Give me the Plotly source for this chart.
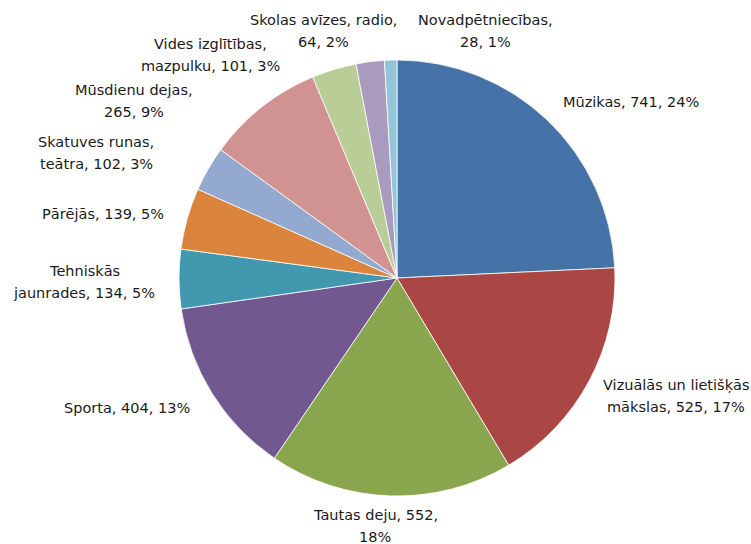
import plotly.graph_objects as go

categories = ["Mūzikas", "Vizuālās un lietišķās mākslas", "Tautas deju", "Sporta",
              "Tehniskās jaunrades", "Pārējās", "Skatuves runas, teātra",
              "Mūsdienu dejas", "Vides izglītības, mazpulku",
              "Skolas avīzes, radio", "Novadpētniecības"]
values = [741, 525, 552, 404, 134, 139, 102, 265, 101, 64, 28]
percents = ["24%", "17%", "18%", "13%", "5%", "5%", "3%", "9%", "3%", "2%", "1%"]
label_texts = [
    "Mūzikas, 741, 24%",
    "Vizuālās un lietišķās<br>mākslas, 525, 17%",
    "Tautas deju, 552,<br>18%",
    "Sporta, 404, 13%",
    "Tehniskās<br>jaunrades, 134, 5%",
    "Pārējās, 139, 5%",
    "Skatuves runas,<br>teātra, 102, 3%",
    "Mūsdienu dejas,<br>265, 9%",
    "Vides izglītības,<br>mazpulku, 101, 3%",
    "Skolas avīzes, radio,<br>64, 2%",
    "Novadpētniecības,<br>28, 1%",
]
colors = ["#4572A7", "#AA4643", "#89A54E", "#71588F", "#4198AF", "#DB843D",
          "#93A9CF", "#D19392", "#B9CD96", "#A99BBD", "#92C5D8"]

# label centre positions (pixels in the 751x544 page), layout only
label_px = [(631, 102), (676, 396), (375, 526), (127, 408), (84, 282),
            (103, 214), (96, 153), (134, 101), (211, 55), (323, 31), (485, 31)]
LINE_GAP = 22

W, H = 751, 544

fig = go.Figure(go.Pie(
    labels=categories,
    values=values,
    textinfo="none",
    sort=False,
    direction="clockwise",
    rotation=0,
    marker=dict(colors=colors, line=dict(color="#FFFFFF", width=0.8)),
    domain=dict(x=[179 / W, 615 / W], y=[1 - 496 / H, 1 - 60 / H]),
    showlegend=False,
    hoverinfo="label+value+percent",
))

for txt, (px, py) in zip(label_texts, label_px):
    lines = txt.split("<br>")
    n = len(lines)
    for i, line in enumerate(lines):
        ly = py + (i - (n - 1) / 2) * LINE_GAP
        fig.add_annotation(
            x=px / W, y=1 - ly / H, xref="paper", yref="paper",
            text=line, showarrow=False, xanchor="center", yanchor="middle",
            align="center",
            font=dict(family="DejaVu Sans", size=14.5, color="#1a1a1a"),
        )

fig.update_layout(
    width=W, height=H,
    margin=dict(l=0, r=0, t=0, b=0),
    paper_bgcolor="white",
    plot_bgcolor="white",
)

fig.write_html(
    "out.html",
    config={"displayModeBar": False},
    post_script="document.body.style.margin='0';document.body.style.overflow='hidden';",
)
